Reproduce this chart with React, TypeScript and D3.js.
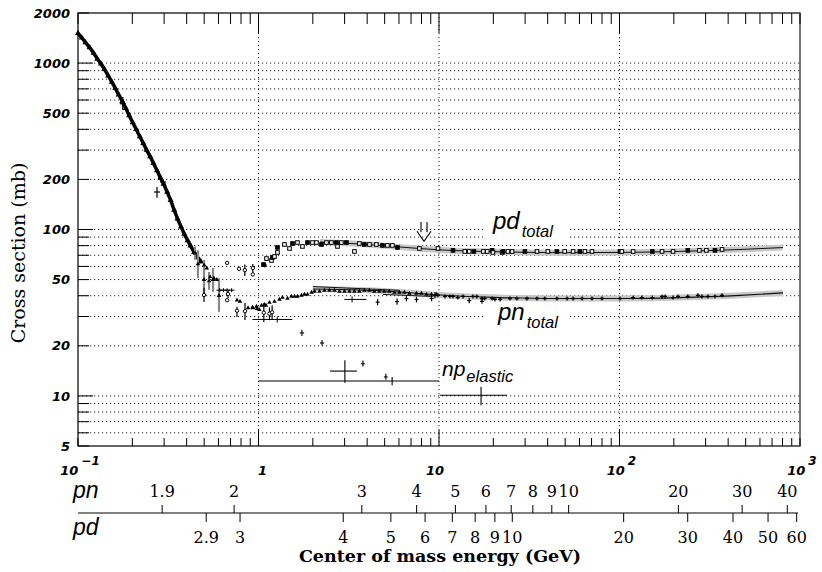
import React from 'react';
import * as d3 from 'd3';

const WIDTH = 822;
const HEIGHT = 572;
const PLOT = { left: 78, right: 800, top: 13, bottom: 446 };

// ---- axes ----
const xDomain: [number, number] = [0.1, 1000];
const yDomain: [number, number] = [5, 2000];
const yLabelValues = [5, 10, 20, 50, 100, 200, 500, 1000, 2000];
const yGridValues = [6, 7, 8, 9, 10, 20, 30, 40, 50, 60, 70, 80, 90, 100, 200, 300, 400, 500, 600, 700, 800, 900, 1000];
const yMajorTicks = [10, 100, 1000];
const xGridValues = [1, 10, 100];
const xMajorTicks = [1, 10, 100];
const xLabelExponents = [-1, 0, 1, 2, 3];
const pnTickValues = [1.9, 2, 3, 4, 5, 6, 7, 8, 9, 10, 20, 30, 40];
const pdTickValues = [2.9, 3, 4, 5, 6, 7, 8, 9, 10, 20, 30, 40, 50, 60];
const M_P = 0.938272;
const M_N = 0.939565;
const M_D = 1.875613;

// ---- data: [p_lab (GeV/c), sigma (mb)] ----
const lowCurve: [number, number][] = [
  [0.100, 1510], [0.105, 1420], [0.110, 1330], [0.116, 1240], [0.122, 1150], [0.128, 1060],
  [0.134, 990], [0.140, 920], [0.147, 840], [0.154, 770], [0.161, 705], [0.168, 645],
  [0.176, 590], [0.184, 535], [0.192, 485], [0.201, 440], [0.210, 400], [0.220, 362],
  [0.230, 330], [0.240, 300], [0.251, 275], [0.262, 250], [0.274, 226], [0.286, 205],
  [0.298, 188], [0.312, 168], [0.326, 150], [0.341, 131], [0.356, 116], [0.372, 104],
  [0.388, 94], [0.405, 86], [0.420, 80], [0.440, 73], [0.460, 68], [0.480, 64],
];
const lowTail: [number, number][] = [
  [0.50, 61], [0.517, 58.6], [0.539, 51.9], [0.566, 51], [0.588, 50], [0.76, 37.6], [0.79, 36.9],
  [0.875, 33.8], [0.93, 33.8], [0.98, 33.4], [1.01, 33.0], [1.1, 35],
];
// [x, y, low, high]
const lowCross: [number, number, number, number][] = [
  [0.274, 168, 155, 180], [0.177, 570, 522, 625], [0.296, 193, 185, 200],
];
const lowGrayErr: [number, number, number, number][] = [
  [0.445, 72, 66, 79], [0.462, 62, 51, 75], [0.499, 50, 39.4, 65.6], [0.532, 49, 43.4, 55.6],
  [0.560, 50, 42.2, 58.8], [0.604, 40, 32, 51],
];
const circErr: [number, number, number, number][] = [
  [0.499, 40.4, 36.7, 44.6], [0.678, 41, 38.8, 43.4], [0.760, 32.5, 29.8, 34.3], [0.842, 32.3, 28.6, 36.2],
  [0.84, 57, 52.5, 61.6], [0.93, 58.7, 55, 62], [1.07, 31.6, 27.8, 36.2], [1.15, 31.2, 28.5, 34],
  [1.19, 31.8, 29, 35],
];
const openCirc: [number, number][] = [[0.67, 63], [0.93, 53.7], [1.08, 61], [0.67, 37.6], [0.78, 58]];
// [x, y, xlow, xhigh]
const lowHBar: [number, number, number, number][] = [
  [0.61, 43.2, 0.585, 0.635], [0.64, 43.2, 0.615, 0.665], [0.67, 43.2, 0.645, 0.695], [0.71, 43.2, 0.685, 0.735],
];
const pnRising: [number, number][] = [
  [0.926, 34.0], [0.975, 34.5], [1.039, 35.0], [1.079, 35.4], [1.150, 36.4], [1.226, 36.9], [1.307, 38.0],
  [1.358, 39.0], [1.447, 38.5], [1.523, 39.6], [1.583, 39.6], [1.644, 39.6], [1.730, 40.2], [1.798, 40.7],
  [1.868, 40.7], [1.967, 41.9], [2.043, 42.5], [2.177, 42.5], [2.320, 43.1], [2.472, 43.1], [2.635, 43.1],
  [2.808, 42.5], [2.992, 42.5], [3.19, 42.5], [3.40, 42.5], [3.62, 42.5], [3.86, 43.1], [4.12, 43.1],
  [4.38, 42.5], [4.67, 42.5], [4.98, 42.5], [5.31, 42.5], [5.66, 41.9], [6.03, 41.9], [6.43, 41.9],
  [6.85, 41.3], [7.50, 41.3], [7.99, 41.3], [8.52, 40.7], [9.08, 40.7], [9.68, 40.7],
];
const pnHigh: [number, number][] = [
  [9.87, 40.2], [10.8, 39.6], [11.5, 39.6], [11.95, 39.6], [12.7, 39.0], [13.6, 39.6], [15.4, 39.6],
  [16.2, 39.6], [17.3, 38.5], [17.9, 38.5], [19.7, 38.5], [20.4, 38.0], [21.8, 38.0], [24.7, 38.5],
  [27.0, 38.5], [30.7, 38.5], [34.9, 38.5], [38.6, 38.5], [45.0, 38.5], [51.2, 38.5], [55.3, 38.5],
  [62.1, 38.5], [70.4, 38.5], [80.0, 38.5], [100.6, 38.5], [119, 39.0], [133, 39.0], [152, 39.0],
  [172, 39.6], [179, 39.6], [198, 39.0], [211, 39.6], [239, 39.6], [272, 40.2], [286, 39.6],
  [309, 39.6], [338, 39.6], [370, 40.2],
];
const pnErr: [number, number, number, number][] = [
  [4.57, 36.6, 35.0, 38.2], [5.86, 36.9, 35.3, 38.5], [6.6, 38.5, 37.0, 40.0], [7.5, 38.0, 36.5, 39.5],
  [9.1, 38.5, 37.0, 40.5], [9.5, 40.0, 38.5, 42.0], [14.7, 37.4, 36.0, 38.8], [17.3, 37.0, 35.8, 38.5],
];
const pnHBar: [number, number, number, number][] = [
  [3.3, 38.0, 2.99, 3.96], [1.27, 28.8, 0.926, 1.54],
];
const pdRising: [number, number][] = [
  [1.066, 61.6], [1.107, 66.9], [1.180, 65.1], [1.195, 67.9], [1.226, 68.8], [1.274, 72.8], [1.274, 78.0],
  [1.393, 81.3], [1.485, 76.9], [1.543, 82.4], [1.644, 83.5], [1.752, 79.1], [1.868, 83.5], [1.990, 83.5],
  [2.095, 83.5], [2.233, 81.3], [2.380, 83.5], [2.536, 83.5], [2.703, 83.5], [2.74, 79.1], [2.88, 83.5],
  [3.07, 83.5], [3.40, 73.8], [3.62, 82.4], [3.86, 81.3], [4.12, 81.3], [4.50, 81.3], [4.86, 80.2],
  [5.18, 80.2], [5.52, 80.2], [5.89, 78.0], [7.79, 76.9],
];
const pdHigh: [number, number][] = [
  [9.87, 76.9], [11.95, 74.9], [13.9, 73.8], [14.7, 73.8], [15.6, 73.8], [17.6, 73.8], [18.5, 73.8],
  [19.7, 74.9], [19.9, 72.8], [22.4, 72.8], [22.6, 73.8], [24.1, 73.8], [25.4, 73.8], [29.9, 73.8],
  [34.9, 73.8], [40.1, 73.8], [45.0, 73.8], [49.7, 73.8], [55.3, 73.8], [60.3, 73.8], [64.3, 73.8],
  [70.4, 73.8], [100.6, 73.8], [103, 73.8], [119, 73.8], [152, 73.8], [172, 73.8], [198, 73.8],
  [239, 74.9], [277, 74.9], [303, 74.9], [338, 74.9], [370, 75.9],
];
const pdFitX = [2.19, 3.65, 6.08, 10.13, 16.9, 28.1, 46.8, 100.6, 216, 465, 805];
const pdFitY = [84.1, 81.8, 78.5, 75.4, 73.9, 73.0, 72.6, 72.8, 73.9, 75.8, 77.9];
const pnFitX = [2.0, 3.65, 6.08, 10.13, 21.8, 46.8, 100.6, 216, 465, 805];
const pnFitY = [43.9, 43.3, 42.1, 40.4, 39.0, 38.5, 38.5, 39.0, 40.2, 41.6];
const pnSeg1: [number, number][] = [[2.0, 45.4], [6.03, 43.1]];
const pnSeg2: [number, number][] = [[4.9, 40.7], [9.2, 39.6]];
// np elastic: [x, y, xlow, xhigh, ylow, yhigh]
const npElastic: [number, number, number, number, number, number][] = [
  [1.74, 23.9, 1.69, 1.79, 22.9, 25.0],
  [2.25, 20.8, 2.19, 2.31, 20.0, 21.7],
  [3.01, 14.1, 2.49, 3.51, 12.0, 16.4],
  [3.79, 15.6, 3.70, 3.88, 15.0, 16.3],
  [5.08, 13.0, 4.95, 5.20, 12.5, 13.6],
  [5.50, 12.3, 1.0, 10.0, 11.6, 13.0],
  [17.1, 10.1, 10.1, 23.8, 8.8, 11.3],
];
const arrowX = 8.26;
const arrowTopValue = 111;
const arrowTipValue = 85;

const xS = d3.scaleLog().domain(xDomain).range([PLOT.left, PLOT.right]);
const yS = d3.scaleLog().domain(yDomain).range([PLOT.bottom, PLOT.top]);

function plab(sqrtS: number, mTarget: number) {
  const s = sqrtS * sqrtS;
  const E = (s - M_P * M_P - mTarget * mTarget) / (2 * mTarget);
  return Math.sqrt(E * E - M_P * M_P);
}

const TICK_FONT = "'DejaVu Sans', sans-serif";
const SERIF = "'DejaVu Serif', serif";
const ITAL = "'Liberation Sans', Arial, sans-serif";

export default function App() {
  const tri = d3.symbol().type(d3.symbolTriangle).size(16)() as string;
  const triSmall = d3.symbol().type(d3.symbolTriangle).size(9)() as string;
  const fitLine = d3.line<[number, number]>().x(d => xS(d[0])).y(d => yS(d[1])).curve(d3.curveMonotoneX);
  const pdFit = pdFitX.map((x, i) => [x, pdFitY[i]] as [number, number]);
  const pnFit = pnFitX.map((x, i) => [x, pnFitY[i]] as [number, number]);
  const lowLine = d3.line<[number, number]>().x(d => xS(d[0])).y(d => yS(d[1]));
  const xMinor = xS.ticks();
  const yMinor = yS.ticks();
  const axisY = 513;
  const ax = xS(arrowX), aTop = yS(arrowTopValue), aTip = yS(arrowTipValue);

  return (
    <svg width={WIDTH} height={HEIGHT} style={{ display: 'block', position: 'absolute', left: 0, top: 0, background: '#fff' }}>
      <rect x={0} y={0} width={WIDTH} height={HEIGHT} fill="#fff" />
      {/* grid */}
      {yGridValues.map(v => (
        <line key={'gy' + v} x1={PLOT.left} x2={PLOT.right} y1={yS(v)} y2={yS(v)} stroke="#222" strokeWidth={1} strokeDasharray="1.2 2.8" />
      ))}
      {xGridValues.map(v => (
        <line key={'gx' + v} x1={xS(v)} x2={xS(v)} y1={PLOT.top} y2={PLOT.bottom} stroke="#222" strokeWidth={1} strokeDasharray="1.2 2.8" />
      ))}
      {/* white label boxes */}
      <rect x={483} y={212} width={87} height={28} fill="#fff" />
      <rect x={483} y={304} width={87} height={27} fill="#fff" />

      {/* fits */}
      <path d={fitLine(pdFit) as string} fill="none" stroke="#c8c8c8" strokeWidth={6} />
      <path d={fitLine(pnFit) as string} fill="none" stroke="#c8c8c8" strokeWidth={6} />
      <path d={fitLine(pdFit) as string} fill="none" stroke="#111" strokeWidth={1} />
      <path d={fitLine(pnFit) as string} fill="none" stroke="#111" strokeWidth={1.2} />
      <path d={lowLine(pnSeg1) as string} fill="none" stroke="#111" strokeWidth={1} />
      <path d={lowLine(pnSeg2) as string} fill="none" stroke="#111" strokeWidth={1} />

      {/* low energy data */}
      <path d={lowLine(lowCurve) as string} fill="none" stroke="#000" strokeWidth={3.5} />
      {lowCurve.map(([x, y], i) => (
        <path key={'lc' + i} d={tri} transform={`translate(${xS(x)},${yS(y)})`} fill="#000" />
      ))}
      {lowGrayErr.map(([x, y, lo, hi], i) => (
        <g key={'lg' + i}>
          <line x1={xS(x)} x2={xS(x)} y1={yS(lo)} y2={yS(hi)} stroke="#888" strokeWidth={2.2} />
          <path d={triSmall} transform={`translate(${xS(x)},${yS(y)})`} fill="#000" />
        </g>
      ))}
      {lowCross.map(([x, y, lo, hi], i) => (
        <g key={'lx' + i} stroke="#000" strokeWidth={1.2}>
          <line x1={xS(x)} x2={xS(x)} y1={yS(lo)} y2={yS(hi)} />
          <line x1={xS(x) - 3} x2={xS(x) + 3} y1={yS(y)} y2={yS(y)} />
        </g>
      ))}
      {lowTail.map(([x, y], i) => (
        <path key={'lt' + i} d={triSmall} transform={`translate(${xS(x)},${yS(y)})`} fill="#000" />
      ))}
      {lowHBar.map(([x, y, xl, xh], i) => (
        <g key={'lh' + i} stroke="#000" strokeWidth={1}>
          <line x1={xS(xl)} x2={xS(xh)} y1={yS(y)} y2={yS(y)} />
          <line x1={xS(x)} x2={xS(x)} y1={yS(y) - 2} y2={yS(y) + 2} />
        </g>
      ))}
      {circErr.map(([x, y, lo, hi], i) => (
        <g key={'ce' + i}>
          <line x1={xS(x)} x2={xS(x)} y1={yS(lo)} y2={yS(hi)} stroke="#000" strokeWidth={1.2} />
          <circle cx={xS(x)} cy={yS(y)} r={1.7} fill="#fff" stroke="#000" strokeWidth={1} />
        </g>
      ))}
      {openCirc.map(([x, y], i) => (
        <circle key={'oc' + i} cx={xS(x)} cy={yS(y)} r={1.7} fill="#fff" stroke="#000" strokeWidth={1} />
      ))}

      {/* pn total */}
      {pnRising.map(([x, y], i) => (
        <path key={'pr' + i} d={triSmall} transform={`translate(${xS(x)},${yS(y)})`} fill="#000" />
      ))}
      {pnHigh.map(([x, y], i) => (
        <path key={'ph' + i} d={`M${xS(x) - 2},${yS(y)}h4M${xS(x)},${yS(y) - 2}v4`} stroke="#000" strokeWidth={1.3} />
      ))}
      {pnErr.map(([x, y, lo, hi], i) => (
        <g key={'pe' + i} stroke="#000" strokeWidth={1.2}>
          <line x1={xS(x)} x2={xS(x)} y1={yS(lo)} y2={yS(hi)} />
          <line x1={xS(x) - 2} x2={xS(x) + 2} y1={yS(y)} y2={yS(y)} />
        </g>
      ))}
      {pnHBar.map(([x, y, xl, xh], i) => (
        <g key={'pb' + i} stroke="#000" strokeWidth={1}>
          <line x1={xS(xl)} x2={xS(xh)} y1={yS(y)} y2={yS(y)} />
          <line x1={xS(x)} x2={xS(x)} y1={yS(y) - 3} y2={yS(y) + 3} />
        </g>
      ))}

      {/* pd total */}
      {pdRising.concat(pdHigh).map(([x, y], i) => (
        <rect key={'pd' + i} x={xS(x) - 1.8} y={yS(y) - 1.8} width={3.6} height={3.6} fill={i % 3 === 0 ? '#000' : '#fff'} stroke="#000" strokeWidth={1} />
      ))}

      {/* np elastic */}
      {npElastic.map(([x, y, xl, xh, yl, yh], i) => (
        <g key={'ne' + i} stroke="#000" strokeWidth={1.1}>
          <line x1={xS(xl)} x2={xS(xh)} y1={yS(y)} y2={yS(y)} />
          <line x1={xS(x)} x2={xS(x)} y1={yS(yl)} y2={yS(yh)} />
        </g>
      ))}

      {/* arrow */}
      <path
        d={`M${ax - 3},${aTop}V${aTip - 9}M${ax + 3},${aTop}V${aTip - 9}M${ax - 7},${aTip - 10}L${ax},${aTip}L${ax + 7},${aTip - 10}`}
        fill="none" stroke="#000" strokeWidth={1.1}
      />

      {/* frame */}
      <rect x={PLOT.left} y={PLOT.top} width={PLOT.right - PLOT.left} height={PLOT.bottom - PLOT.top} fill="none" stroke="#000" strokeWidth={1.2} />
      <line x1={PLOT.right} x2={PLOT.right} y1={PLOT.top} y2={PLOT.bottom} stroke="#777" strokeWidth={2} />

      {/* x ticks */}
      {xMinor.map((v, i) => {
        const X = xS(v);
        const major = xMajorTicks.includes(v);
        return (
          <g key={'xt' + i} stroke="#000" strokeWidth={1}>
            <line x1={X} x2={X} y1={PLOT.bottom} y2={PLOT.bottom - (major ? 16 : 8)} />
            <line x1={X} x2={X} y1={PLOT.top} y2={PLOT.top + (major ? 20 : 11)} />
          </g>
        );
      })}
      {/* y ticks */}
      {yMinor.map((v, i) => {
        const Y = yS(v);
        const major = yMajorTicks.includes(v);
        return <line key={'yt' + i} x1={PLOT.left} x2={PLOT.left + (major ? 15 : 11)} y1={Y} y2={Y} stroke="#000" strokeWidth={1} />;
      })}
      {/* y labels */}
      {yLabelValues.map(v => (
        <text key={'yl' + v} x={70} y={yS(v)} dy="0.36em" textAnchor="end" fontFamily={TICK_FONT} fontWeight="bold" fontStyle="italic" fontSize={13}>{v}</text>
      ))}
      {/* x labels */}
      {xLabelExponents.map(e => {
        const X = xS(Math.pow(10, e)) + 2;
        if (e === 0) return <text key={'xl' + e} x={X + 2} y={475} textAnchor="middle" fontFamily={TICK_FONT} fontWeight="bold" fontStyle="italic" fontSize={13}>1</text>;
        if (e === 1) return <text key={'xl' + e} x={X - 6} y={475} textAnchor="middle" fontFamily={TICK_FONT} fontWeight="bold" fontStyle="italic" fontSize={13}>10</text>;
        return (
          <text key={'xl' + e} x={X} y={475} textAnchor="middle" fontFamily={TICK_FONT} fontWeight="bold" fontStyle="italic" fontSize={13}>
            10<tspan dx={3} dy={-10} fontSize={12}>{e < 0 ? '\u2212' + Math.abs(e) : String(e)}</tspan>
          </text>
        );
      })}

      {/* secondary sqrt(s) axes */}
      <line x1={PLOT.left} x2={798} y1={axisY} y2={axisY} stroke="#000" strokeWidth={1} />
      {pnTickValues.map(v => {
        const X = xS(plab(v, M_N));
        return (
          <g key={'pn' + v}>
            <line x1={X} x2={X} y1={axisY} y2={axisY - 8} stroke="#000" strokeWidth={1} />
            <text x={X} y={497} textAnchor="middle" fontFamily={SERIF} fontSize={16}>{String(v)}</text>
          </g>
        );
      })}
      {pdTickValues.map(v => {
        const X = xS(plab(v, M_D));
        return (
          <g key={'pdt' + v}>
            <line x1={X} x2={X} y1={axisY} y2={axisY + 9} stroke="#000" strokeWidth={1} />
            <text x={X} y={543} textAnchor="middle" fontFamily={SERIF} fontSize={16}>{String(v)}</text>
          </g>
        );
      })}
      <text x={73} y={498} fontFamily={ITAL} fontStyle="italic" fontSize={23}>pn</text>
      <text x={73} y={535} fontFamily={ITAL} fontStyle="italic" fontSize={23}>pd</text>

      {/* titles */}
      <text x={440} y={562} textAnchor="middle" fontFamily={SERIF} fontWeight="bold" fontSize={17.5}>Center of mass energy (GeV)</text>
      <text transform="translate(25,253) rotate(-90)" textAnchor="middle" fontFamily={SERIF} fontSize={19}>Cross section (mb)</text>

      {/* curve labels */}
      <text x={493} y={229} fontFamily={ITAL} fontStyle="italic" fontSize={24}>pd<tspan dx={2} dy={8} fontSize={16.5}>total</tspan></text>
      <text x={498} y={320} fontFamily={ITAL} fontStyle="italic" fontSize={24}>pn<tspan dx={2} dy={8} fontSize={16.5}>total</tspan></text>
      <text x={442} y={376} fontFamily={ITAL} fontStyle="italic" fontSize={21}>np<tspan dx={1} dy={6} fontSize={16.5}>elastic</tspan></text>
    </svg>
  );
}
